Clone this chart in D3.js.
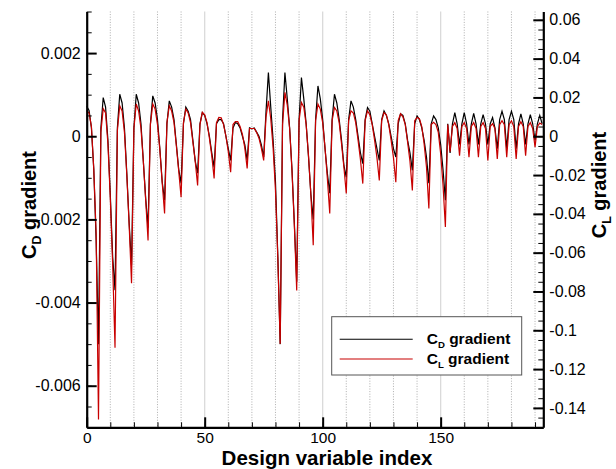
<!DOCTYPE html>
<html>
<head>
<meta charset="utf-8">
<script src="https://cdn.jsdelivr.net/npm/d3@7"></script>
<style>
  body { margin: 0; background: #fff; }
  svg { display: block; font-family: "Liberation Sans", Arial, sans-serif; }
</style>
</head>
<body>
<svg id="chart" width="616" height="469"></svg>
<script>
/* ======================== DATA ========================= */
/* ======================================================= */

// CD gradient (left axis), design variables 0..75
let cdGradA = [
    0.00072, 0.00062, 0.0002, -0.0008, -0.0025, -0.0050,
    0.0002, 0.00093, 0.0007, -0.0001, -0.0014, -0.0029, -0.0037,
    0.0002, 0.00101, 0.0008, 0.0002, -0.0009, -0.0021, -0.0031,
    0.0002, 0.00101, 0.0008, 0.0003, -0.0006, -0.0015, -0.0022,
    0.0003, 0.00097, 0.0008, 0.0004, -0.0003, -0.0011, -0.00154,
    0.0003, 0.00085, 0.0007, 0.0004, -0.0002, -0.0008, -0.00113,
    0.0003, 0.0007, 0.0006, 0.0004, -0.0001, -0.0006, -0.00089,
    0.0003, 0.00057, 0.0005, 0.0003, 0.0000, -0.0004, -0.00075,
    0.0003, 0.0004, 0.0004, 0.0003, 0.0000, -0.0003, -0.00058,
    0.0002, 0.00033, 0.0003, 0.0002, 0.0000, -0.0002, -0.00058,
    0.0002, 0.00018, 0.0002, 0.0001, 0.0000, -0.0002, -0.0005
];
// CD gradient, design variables 76..152
let cdGradB = [
    0.0006, 0.00153, 0.0007, -0.0001, -0.0011, -0.0029, -0.0050,
    0.0004, 0.00153, 0.0009, 0.0002, -0.0008, -0.0021, -0.0035,
    0.0004, 0.00141, 0.0009, 0.0003, -0.0005, -0.0014, -0.0020,
    0.0004, 0.00121, 0.0009, 0.0004, -0.0003, -0.0009, -0.00137,
    0.0004, 0.00101, 0.0008, 0.0004, -0.0001, -0.0007, -0.00099,
    0.0004, 0.00085, 0.0007, 0.0004, 0.0000, -0.0004, -0.00066,
    0.0004, 0.00069, 0.0006, 0.0003, 0.0000, -0.0003, -0.00058,
    0.0004, 0.00061, 0.0005, 0.0003, 0.0000, -0.0003, -0.0005,
    0.0003, 0.00054, 0.0005, 0.0003, -0.0001, -0.0004, -0.00082,
    0.0003, 0.00049, 0.0004, 0.0002, -0.0001, -0.0005, -0.00113,
    0.0003, 0.00049, 0.0004, 0.0002, -0.0002, -0.0008, -0.00154
];
// CD gradient, design variables 153..193
let cdGradC = [
    0.0003, -0.0004, 0.0003, 0.00057, 0.0003, -0.0002,
    0.0003, 0.00057, 0.0003, -0.0002, 0.0003, 0.00055, 0.0003, -0.0002,
    0.0003, 0.00052, 0.0003, -0.0002, 0.0003, 0.00045, 0.0002, -0.0003,
    0.0004, 0.0006, 0.0004, -0.0003, 0.0004, 0.0006, 0.0004, -0.0003,
    0.0003, 0.00054, 0.0003, -0.0002, 0.0003, 0.00052, 0.0003, -0.0001,
    0.0003, 0.0005, 0.0003
];

// CL gradient (right axis), design variables 0..75
let clGradA = [
    0.0132, 0.012, 0.005, -0.017, -0.05, -0.146,
    0.002, 0.0142, 0.012, -0.004, -0.032, -0.066, -0.109,
    0.003, 0.0157, 0.013, 0.002, -0.020, -0.046, -0.0758,
    0.004, 0.0166, 0.013, 0.004, -0.013, -0.033, -0.0537,
    0.006, 0.0166, 0.014, 0.006, -0.007, -0.024, -0.0398,
    0.007, 0.0157, 0.013, 0.007, -0.005, -0.018, -0.0314,
    0.007, 0.0140, 0.012, 0.007, -0.003, -0.013, -0.0254,
    0.006, 0.0123, 0.011, 0.007, -0.001, -0.010, -0.0218,
    0.007, 0.0097, 0.0095, 0.006, 0.000, -0.008, -0.0185,
    0.006, 0.0075, 0.0075, 0.005, 0.001, -0.006, -0.0166,
    0.004, 0.0040, 0.004, 0.002, -0.001, -0.006, -0.0125
];
// CL gradient, design variables 76..152
let clGradB = [
    0.010, 0.0183, 0.009, -0.006, -0.028, -0.063, -0.107,
    0.006, 0.0226, 0.016, 0.004, -0.018, -0.046, -0.0795,
    0.008, 0.0174, 0.015, 0.006, -0.010, -0.030, -0.0562,
    0.008, 0.0166, 0.014, 0.007, -0.006, -0.022, -0.0398,
    0.008, 0.0148, 0.013, 0.007, -0.004, -0.016, -0.0295,
    0.008, 0.0131, 0.012, 0.007, -0.002, -0.012, -0.0244,
    0.008, 0.0131, 0.011, 0.006, -0.002, -0.011, -0.0228,
    0.008, 0.0122, 0.011, 0.006, -0.002, -0.011, -0.0237,
    0.008, 0.0116, 0.010, 0.006, -0.003, -0.013, -0.0279,
    0.008, 0.0097, 0.009, 0.005, -0.004, -0.016, -0.0372,
    0.006, 0.0072, 0.006, 0.002, -0.009, -0.025, -0.0468
];
// CL gradient, design variables 153..193
let clGradC = [
    0.006, -0.008, 0.005, 0.007, 0.004, -0.010,
    0.005, 0.007, 0.004, -0.0108, 0.005, 0.007, 0.004, -0.0108,
    0.005, 0.007, 0.004, -0.0125, 0.005, 0.0065, 0.004, -0.0117,
    0.006, 0.008, 0.006, -0.0108, 0.006, 0.008, 0.005, -0.0117,
    0.005, 0.0075, 0.005, -0.010, 0.005, 0.007, 0.004, -0.0056,
    0.005, 0.0068, 0.006
];

let xMajorTicks = [0, 50, 100, 150];
let leftMajorTicks = [-0.006, -0.004, -0.002, 0, 0.002];
let rightMajorTicks = [-0.14, -0.12, -0.1, -0.08, -0.06, -0.04, -0.02, 0, 0.02, 0.04, 0.06];

/* ======================================================= */
/* ===================== END OF DATA ===================== */

let margin = {top: 11.5, right: 72.7, bottom: 41.7, left: 86.7};
let svg = d3.select("#chart");
let width = +svg.attr("width") - margin.left - margin.right;
let height = +svg.attr("height") - margin.top - margin.bottom;

let cdGrad = cdGradA.concat(cdGradB, cdGradC);
let clGrad = clGradA.concat(clGradB, clGradC);

let xScale = d3.scaleLinear().domain([0, 193.5]).range([0, width]);
let yLeft = d3.scaleLinear().domain([-0.007, 0.003]).range([height, 0]);
let yRight = d3.scaleLinear().domain([-0.15, 0.15 * 3 / 7]).range([height, 0]);

let mainView = svg.append("g").attr("transform", translate(margin.left, margin.top));

function translate(x, y) {
    return "translate(" + x + "," + y + ")";
}

function fmt(d) {
    return d === 0 ? "0" : String(+d.toFixed(4));
}

/* ===================== GRID LINES ====================== */
mainView.append("g")
        .selectAll("line")
        .data(d3.range(10, 194, 10))
        .join("line")
        .attr("x1", d => xScale(d)).attr("x2", d => xScale(d))
        .attr("y1", 0).attr("y2", height)
        .attr("stroke", d => d % 50 === 0 ? "#dadada" : "#999")
        .attr("stroke-width", d => d % 50 === 0 ? 1.3 : 0.8)
        .attr("stroke-dasharray", d => d % 50 === 0 ? null : "1,1.6");

/* ======================= LINES ========================= */
let cdLine = d3.line()
               .x((d, i) => xScale(i))
               .y(d => yLeft(d));
let clLine = d3.line()
               .x((d, i) => xScale(i))
               .y(d => yRight(d));

mainView.append("path")
        .datum(cdGrad)
        .attr("fill", "none")
        .attr("stroke", "#000")
        .attr("stroke-width", 1.2)
        .attr("d", cdLine);
mainView.append("path")
        .datum(clGrad)
        .attr("fill", "none")
        .attr("stroke", "#c80000")
        .attr("stroke-width", 1.2)
        .attr("d", clLine);

/* ======================== AXES ========================= */
function styleAxis(g, fontSize) {
    g.select(".domain").attr("stroke-width", 2.2);
    g.selectAll(".tick line").attr("stroke-width", 2);
    g.selectAll(".tick text")
     .attr("font-family", "Liberation Sans, Arial, sans-serif")
     .attr("font-size", fontSize)
     .attr("fill", "#000");
}

// bottom
mainView.append("g")
        .attr("transform", translate(0, height))
        .call(d3.axisBottom(xScale).tickValues(d3.range(10, 194, 10)).tickSize(-5).tickFormat(""))
        .call(g => g.select(".domain").remove())
        .selectAll("line").attr("stroke-width", 1);
mainView.append("g")
        .attr("transform", translate(0, height))
        .call(d3.axisBottom(xScale).tickValues(xMajorTicks).tickSizeInner(-10).tickSizeOuter(0).tickPadding(5))
        .call(g => styleAxis(g, 15.5));

// left
mainView.append("g")
        .call(d3.axisLeft(yLeft).tickValues(d3.range(-0.007, 0.00301, 0.0005)).tickSize(-5).tickFormat(""))
        .call(g => g.select(".domain").remove())
        .selectAll("line").attr("stroke-width", 1);
mainView.append("g")
        .call(d3.axisLeft(yLeft).tickValues(leftMajorTicks).tickSizeInner(-10).tickSizeOuter(0).tickPadding(6).tickFormat(fmt))
        .call(g => styleAxis(g, 16));

// right
mainView.append("g")
        .attr("transform", translate(width, 0))
        .call(d3.axisRight(yRight).tickValues(d3.range(-0.15, 0.0643, 0.005)).tickSize(-5).tickFormat(""))
        .call(g => g.select(".domain").remove())
        .selectAll("line").attr("stroke-width", 1);
mainView.append("g")
        .attr("transform", translate(width, 0))
        .call(d3.axisRight(yRight).tickValues(rightMajorTicks).tickSizeInner(-10).tickSizeOuter(0).tickPadding(6).tickFormat(fmt))
        .call(g => styleAxis(g, 16));

/* ======================= TITLES ======================== */
function subTitle(sel, main, sub, rest, size) {
    sel.attr("font-weight", "bold").attr("font-size", size);
    sel.append("tspan").text(main);
    sel.append("tspan").attr("font-size", size * 0.62).attr("dy", size * 0.25).text(sub);
    sel.append("tspan").attr("dy", -size * 0.25).text(rest);
}

svg.append("text")
   .attr("x", 327).attr("y", 465)
   .attr("text-anchor", "middle")
   .attr("font-weight", "bold")
   .attr("font-size", 20.5)
   .text("Design variable index");

svg.append("text")
   .attr("transform", translate(36, 205) + " rotate(-90)")
   .attr("text-anchor", "middle")
   .call(sel => subTitle(sel, "C", "D", " gradient", 20));

svg.append("text")
   .attr("transform", translate(606, 185) + " rotate(-90)")
   .attr("text-anchor", "middle")
   .call(sel => subTitle(sel, "C", "L", " gradient", 20));

/* ======================= LEGEND ======================== */
let legend = svg.append("g").attr("transform", translate(331.7, 316.7));
legend.append("rect")
      .attr("width", 190).attr("height", 58.3)
      .attr("fill", "#fff")
      .attr("stroke", "#555")
      .attr("stroke-width", 1);

let legendItems = [
    {sub: "D", color: "#000"},
    {sub: "L", color: "#c80000"}
];
legendItems.forEach((item, i) => {
    let y = 22.6 + i * 19.7;
    legend.append("line")
          .attr("x1", 8).attr("x2", 81)
          .attr("y1", y).attr("y2", y)
          .attr("stroke", item.color)
          .attr("stroke-width", 1.1);
    legend.append("text")
          .attr("x", 95).attr("y", y + 5)
          .call(sel => subTitle(sel, "C", item.sub, " gradient", 15.5));
});
</script>
</body>
</html>
